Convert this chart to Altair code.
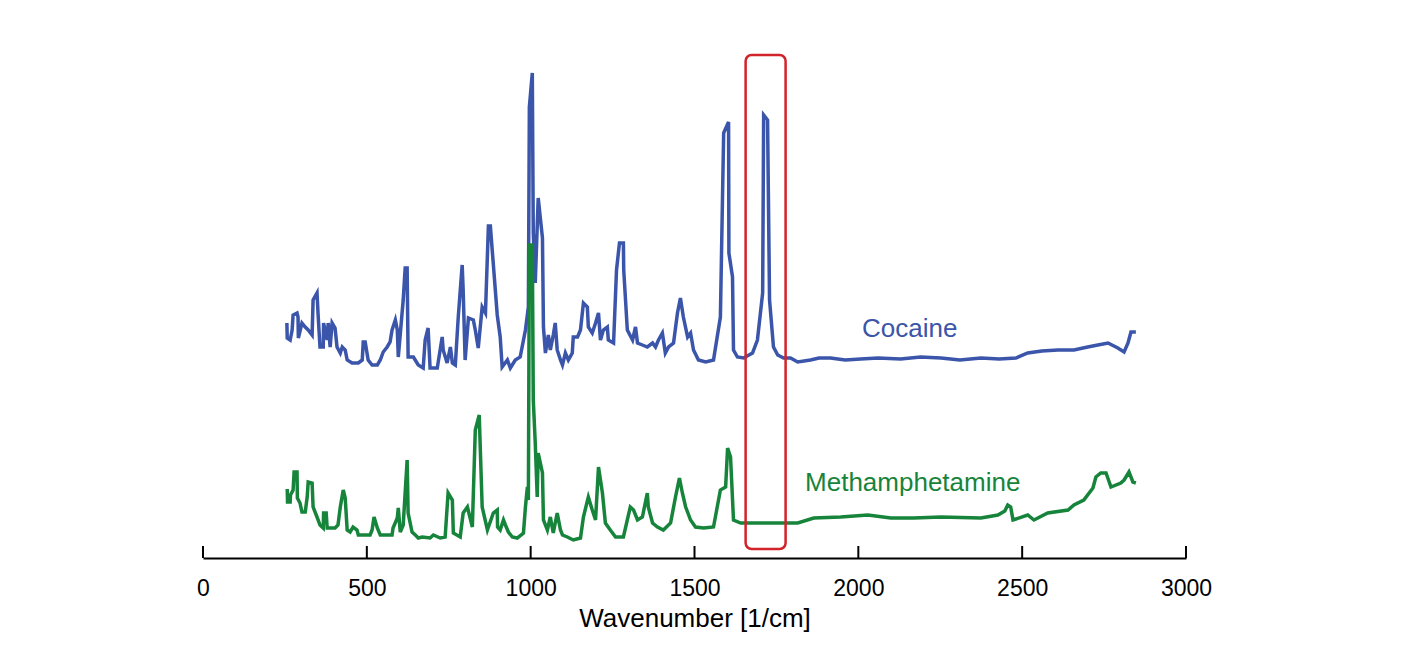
import altair as alt
import pandas as pd

# ---- data (wavenumber in 1/cm, intensity in arbitrary units) ----
coc_wn = [256, 257, 266, 272, 275, 287, 290, 291, 302, 312, 321, 333, 336, 348, 351, 357, 367, 368,
          379, 382, 388, 394, 403, 409, 419, 425, 434, 440, 455, 474, 486, 489, 495, 504, 516, 532,
          541, 550, 562, 571, 577, 587, 593, 596, 611, 617, 623, 626, 642, 657, 672, 678, 687, 693,
          715, 730, 733, 745, 755, 761, 770, 779, 791, 794, 800, 810, 825, 831, 840, 852, 862, 871,
          877, 898, 907, 913, 929, 938, 953, 968, 984, 993, 996, 1005, 1008, 1014, 1023, 1036, 1039,
          1045, 1054, 1060, 1069, 1075, 1081, 1091, 1097, 1106, 1115, 1127, 1130, 1143, 1152, 1161,
          1173, 1176, 1188, 1198, 1207, 1213, 1222, 1234, 1237, 1253, 1262, 1271, 1283, 1284, 1295,
          1311, 1320, 1326, 1341, 1356, 1372, 1381, 1390, 1402, 1411, 1421, 1436, 1448, 1457, 1466,
          1479, 1488, 1497, 1512, 1534, 1558, 1579, 1589, 1604, 1605, 1616, 1619, 1631, 1650, 1677,
          1692, 1708, 1711, 1723, 1729, 1741, 1754, 1772, 1793, 1815, 1854, 1880, 1915, 1960, 2007,
          2060, 2129, 2190, 2252, 2310, 2374, 2430, 2481, 2517, 2560, 2609, 2658, 2700, 2731, 2762,
          2792, 2811, 2823, 2832, 2847]
coc_int = [235, 220, 218, 228, 243, 245, 241, 220, 235, 231, 228, 223, 258, 265, 245, 211, 211, 235,
           218, 235, 211, 235, 230, 211, 205, 211, 208, 198, 195, 195, 198, 216, 216, 198, 193, 193,
           198, 206, 211, 216, 228, 238, 228, 201, 258, 290, 290, 201, 201, 193, 190, 218, 230, 190,
           190, 221, 208, 195, 211, 195, 193, 241, 293, 268, 198, 240, 238, 228, 210, 251, 245, 332,
           332, 243, 221, 191, 198, 190, 198, 201, 228, 251, 451, 485, 325, 275, 360, 320, 231,
           205, 223, 208, 223, 235, 208, 198, 193, 205, 198, 205, 221, 221, 228, 255,
           251, 231, 225, 235, 245, 218, 228, 231, 218, 215, 288, 315, 315, 288, 228,
           218, 231, 215, 213, 211, 215, 211, 218, 225, 205, 211, 215, 245, 260, 241,
           221, 225, 208, 198, 196, 198, 241, 425, 436, 305, 281, 208, 201, 200, 205,
           218, 265, 443, 438, 258, 211, 203, 200, 200, 196, 198, 200, 200, 198, 199,
           200, 199, 201, 200, 198, 200, 199, 200, 205, 207, 208, 208, 211, 213, 215,
           210, 206, 215, 226, 226]

meth_wn = [257, 258, 266, 267, 275, 278, 287, 288, 296, 302, 312, 318, 321, 333, 336, 348, 357, 367,
           368, 376, 379, 403, 412, 419, 428, 434, 440, 449, 458, 470, 474, 510, 516, 522, 532, 541,
           577, 580, 593, 596, 602, 611, 623, 626, 638, 648, 657, 669, 693, 703, 724, 739, 748, 761,
           764, 785, 794, 807, 813, 822, 831, 843, 852, 868, 886, 898, 899, 907, 917, 923, 932, 944,
           959, 978, 984, 990, 993, 996, 1005, 1008, 1014, 1020, 1023, 1036, 1039, 1051, 1060, 1069,
           1081, 1091, 1097, 1112, 1130, 1152, 1161, 1176, 1188, 1198, 1207, 1219, 1228, 1243, 1259,
           1283, 1304, 1314, 1326, 1341, 1356, 1359, 1372, 1387, 1405, 1427, 1442, 1454, 1463, 1473,
           1488, 1503, 1528, 1558, 1579, 1595, 1601, 1610, 1619, 1641, 1680, 1732, 1815, 1864, 1946,
           2029, 2099, 2169, 2252, 2374, 2426, 2447, 2456, 2465, 2472, 2517, 2536, 2578, 2640, 2658,
           2688, 2716, 2725, 2740, 2756, 2771, 2801, 2811, 2826, 2838, 2847]
meth_int = [69, 56, 56, 63, 68, 86, 86, 60, 55, 46, 46, 61, 76, 75, 51, 41, 33, 30,
            45, 45, 30, 30, 33, 51, 68, 60, 28, 26, 31, 28, 23, 23, 28, 41, 30, 23,
            23, 30, 40, 50, 26, 33, 98, 45, 26, 23, 20, 21, 20, 23, 20, 21, 65, 58,
            25, 21, 45, 51, 43, 31, 128, 143, 51, 28, 45, 48, 31, 28, 38, 33, 26, 21,
            20, 25, 51, 71, 58, 313, 313, 158, 115, 61, 105, 85, 38, 28, 41, 25,
            45, 28, 23, 21, 18, 20, 41, 61, 48, 38, 91, 65, 35, 28, 21,
            21, 51, 48, 38, 41, 65, 51, 35, 31, 28, 35, 61, 80, 65, 51,
            38, 31, 30, 31, 68, 71, 110, 101, 38, 35, 35, 35, 35, 40, 41,
            43, 40, 40, 41, 40, 43, 47, 53, 51, 38, 43, 38, 45, 48, 53,
            58, 70, 81, 85, 85, 71, 75, 78, 86, 76, 75]

series_names = ["Cocaine", "Methamphetamine"]
series_colors = ["#3a55a9", "#16843a"]
label_wn = [2157, 2166]
label_int = [229, 75]

tick_values = [0, 500, 1000, 1500, 2000, 2500, 3000]
box_wn = [1656, 1778]
box_int = [9, 503]

# ---- tables ----
coc = pd.DataFrame({"wn": coc_wn, "intensity": coc_int, "order": range(len(coc_wn))})
meth = pd.DataFrame({"wn": meth_wn, "intensity": meth_int, "order": range(len(meth_wn))})
labels = pd.DataFrame({"name": series_names, "wn": label_wn, "intensity": label_int, "color": series_colors})
ticks = pd.DataFrame({"wn": tick_values, "y0": [0] * len(tick_values), "y1": [12] * len(tick_values)})
box = pd.DataFrame({"x": [box_wn[0]], "x2": [box_wn[1]], "y": [box_int[0]], "y2": [box_int[1]]})

FONT = "Liberation Sans"
xs = alt.Scale(domain=[0, 3000], nice=False, zero=False)
ys = alt.Scale(domain=[0, 510], nice=False, zero=False)

xaxis = alt.Axis(values=tick_values, format="d", grid=False, domain=True, domainColor="black",
                 domainWidth=2, ticks=False, tickSize=0, labelFontSize=23, labelColor="black",
                 labelFont=FONT, labelPadding=19, labelFlush=False, title="Wavenumber [1/cm]",
                 titleFont=FONT, titleFontSize=26, titleFontWeight="normal", titleColor="black",
                 titlePadding=5)

coc_line = alt.Chart(coc).mark_line(color=series_colors[0], strokeWidth=3.5, strokeJoin="miter").encode(
    x=alt.X("wn:Q", scale=xs, axis=xaxis),
    y=alt.Y("intensity:Q", scale=ys, axis=None),
    order="order:Q",
)
meth_line = alt.Chart(meth).mark_line(color=series_colors[1], strokeWidth=3.5, strokeJoin="miter").encode(
    x=alt.X("wn:Q", scale=xs),
    y=alt.Y("intensity:Q", scale=ys),
    order="order:Q",
)
text = alt.Chart(labels).mark_text(font=FONT, fontSize=26, align="center", baseline="middle").encode(
    x=alt.X("wn:Q", scale=xs),
    y=alt.Y("intensity:Q", scale=ys),
    text="name:N",
    color=alt.Color("color:N", scale=None),
)
tick_marks = alt.Chart(ticks).mark_rule(color="black", strokeWidth=2).encode(
    x=alt.X("wn:Q", scale=xs),
    y=alt.Y("y0:Q", scale=ys),
    y2="y1:Q",
)
red_box = alt.Chart(box).mark_rect(fillOpacity=0, stroke="#d2232a", strokeWidth=2.5, cornerRadius=6).encode(
    x=alt.X("x:Q", scale=xs),
    x2="x2:Q",
    y=alt.Y("y:Q", scale=ys),
    y2="y2:Q",
)

chart = alt.layer(coc_line, meth_line, text, tick_marks, red_box).properties(
    width=983, height=510,
    padding={"left": 188, "top": 40, "right": 30, "bottom": 5},
    background="white",
).configure_view(stroke=None)

chart.save("out.html", embed_options={"renderer": "svg", "actions": False})
